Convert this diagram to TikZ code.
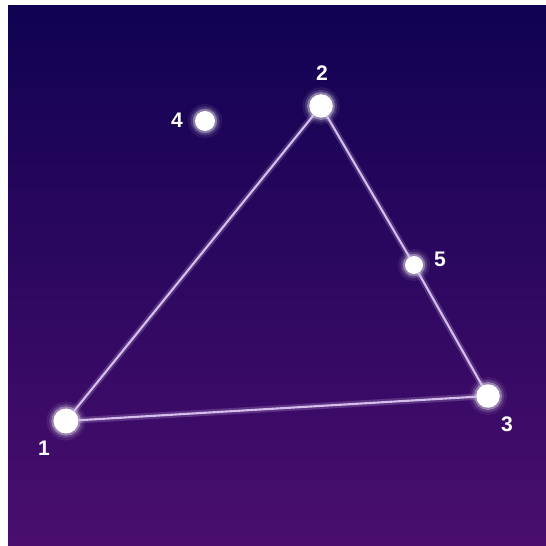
\documentclass[tikz,border=0pt]{standalone}
\usepackage{fontspec}
\setmainfont{Liberation Sans}
\usepackage{xcolor}
\usepackage{tikz}
\usetikzlibrary{positioning}
\definecolor{skytop}{RGB}{16,2,82}
\definecolor{skybottom}{RGB}{74,14,110}
\definecolor{lineglow}{RGB}{214,190,236}
\begin{document}
\begin{tikzpicture}[
  x=0.02cm, y=-0.02cm,
  star/.style={circle, fill=white, inner sep=0pt, outer sep=0pt,
    preaction={draw=white, line width=8pt, opacity=0.07},
    preaction={draw=white, line width=5pt, opacity=0.15},
    preaction={draw=white, line width=2.5pt, opacity=0.35}},
  lbl/.style={text=white, font=\fontsize{12}{14}\selectfont\bfseries, inner sep=0pt},
  link/.style={draw=lineglow, line width=1.2pt,
    preaction={draw=lineglow, line width=3.6pt, opacity=0.22}}
]
  \useasboundingbox (0,0) rectangle (546,546);
  % night sky
  \fill[top color=skytop, bottom color=skybottom] (8,6) rectangle (546,546);
  % stars
  \node[star, minimum size=0.5cm] (s1) at (66,421) {};
  \node[star, minimum size=0.47cm] (s2) at (321,106) {};
  \node[star, minimum size=0.47cm] (s3) at (488,396) {};
  \node[star, minimum size=0.4cm] (s4) at (205,121) {};
  \node[star, minimum size=0.36cm] (s5) at (414,265) {};
  % numbers
  \node[lbl] (l1) at ([shift={(-22,27)}]s1) {1};
  \node[lbl] (l2) at ([shift={(1,-33)}]s2) {2};
  \node[lbl] (l3) at ([shift={(19,28)}]s3) {3};
  \node[lbl] (l4) at ([shift={(-28,-1)}]s4) {4};
  \node[lbl] (l5) at ([shift={(26,-6)}]s5) {5};
  % triangle
  \draw[link] (s1) -- (s2);
  \draw[link] (s2) -- (s5) -- (s3);
  \draw[link] (s3) -- (s1);
\end{tikzpicture}
\end{document}
